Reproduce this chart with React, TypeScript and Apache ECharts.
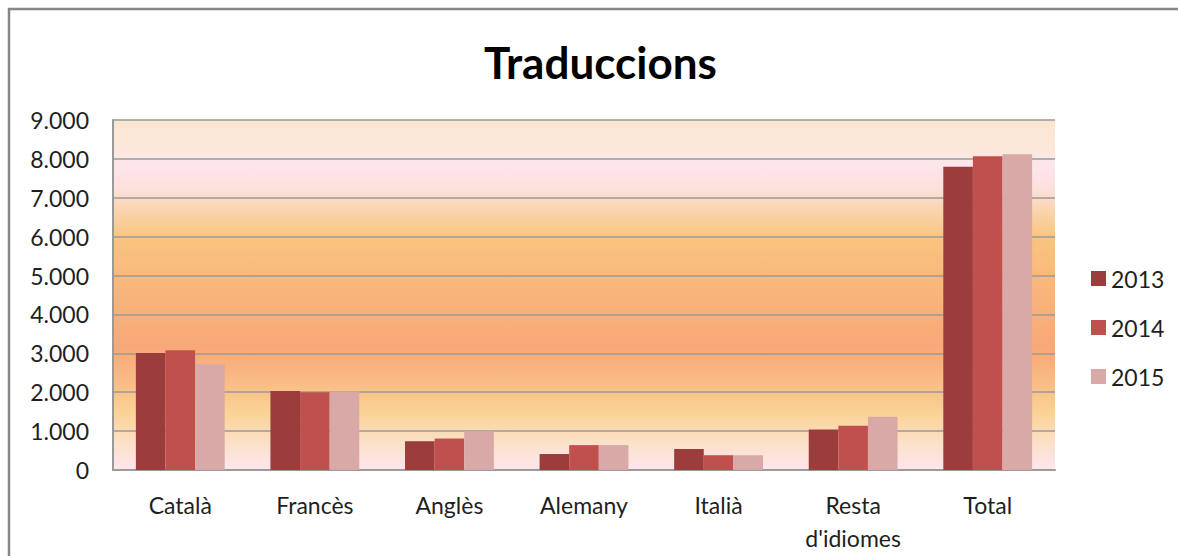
import React, { useEffect, useRef } from "react";
import * as echarts from "echarts";

const categories = ["Català", "Francès", "Anglès", "Alemany", "Italià", "Resta\nd'idiomes", "Total"];
const years = ["2013", "2014", "2015"];
const values2013 = [3010, 2030, 740, 410, 540, 1040, 7800];
const values2014 = [3080, 2000, 810, 640, 380, 1140, 8070];
const values2015 = [2720, 2020, 990, 640, 380, 1370, 8120];
const seriesColors = ["#9B3D3C", "#C0504D", "#D9A9A8"];
const yTicks = { min: 0, max: 9000, interval: 1000 };

const FONT = "Lato, 'Open Sans', sans-serif";

export default function App() {
  const ref = useRef<HTMLDivElement>(null);
  useEffect(() => {
    if (!ref.current) return;
    const chart = echarts.init(ref.current, null, { renderer: "svg" });
    const allValues = [values2013, values2014, values2015];
    chart.setOption({
      animation: false,
      backgroundColor: "#ffffff",
      textStyle: { fontFamily: FONT },
      title: {
        text: "Traduccions",
        left: 479,
        top: 35,
        textStyle: { fontFamily: FONT, fontSize: 44, fontWeight: "bold", color: "#000000" },
      },
      graphic: [
        {
          type: "rect",
          shape: { x: 9, y: 9, width: 1200, height: 600 },
          style: { fill: "none", stroke: "#878787", lineWidth: 2.5 },
          silent: true,
        },
      ],
      legend: {
        orient: "vertical",
        left: 1086,
        top: 262,
        itemWidth: 15,
        itemHeight: 15,
        itemGap: 26,
        icon: "rect",
        data: years,
        textStyle: { fontFamily: FONT, fontSize: 23, color: "#1f1f1f", lineHeight: 23, padding: [0, 0, 0, 0] },
      },
      grid: {
        left: 113,
        right: 123,
        top: 120,
        bottom: 86,
        show: true,
        borderWidth: 0,
        backgroundColor: new echarts.graphic.LinearGradient(0, 0, 0, 1, [
          { offset: 0, color: "#FAE6CF" },
          { offset: 0.09, color: "#FBE8DC" },
          { offset: 0.13, color: "#FDE5EC" },
          { offset: 0.2, color: "#FCE0DA" },
          { offset: 0.27, color: "#FAD2A6" },
          { offset: 0.34, color: "#F9C47E" },
          { offset: 0.5, color: "#F8B47A" },
          { offset: 0.65, color: "#F8A878" },
          { offset: 0.75, color: "#F9BC84" },
          { offset: 0.84, color: "#FBD396" },
          { offset: 0.92, color: "#FCE0C8" },
          { offset: 1, color: "#FDE6EE" },
        ]),
      },
      xAxis: {
        type: "category",
        data: categories,
        axisLine: { show: true, lineStyle: { color: "#9a9a9a", width: 2 } },
        axisTick: { show: false },
        axisLabel: {
          fontFamily: FONT,
          fontSize: 23,
          color: "#1f1f1f",
          margin: 18,
          lineHeight: 33,
          verticalAlign: "top",
          interval: 0,
        },
      },
      yAxis: {
        type: "value",
        min: yTicks.min,
        max: yTicks.max,
        interval: yTicks.interval,
        axisLine: { show: true, lineStyle: { color: "#9a9a9a", width: 2 } },
        axisTick: { show: false },
        splitLine: { show: true, lineStyle: { color: "#9a9a9a", width: 1.5 } },
        axisLabel: {
          fontFamily: FONT,
          fontSize: 23,
          color: "#1f1f1f",
          margin: 24,
          formatter: (v: number) => (v >= 1000 ? Math.floor(v / 1000) + ".000" : String(v)),
        },
      },
      series: years.map((y, i) => ({
        name: y,
        type: "bar",
        data: allValues[i],
        barGap: "0%",
        barCategoryGap: "34%",
        itemStyle: { color: seriesColors[i] },
      })),
    });
    return () => chart.dispose();
  }, []);
  return <div ref={ref} style={{ position: "fixed", left: 0, top: 0, width: 1178, height: 556 }} />;
}
